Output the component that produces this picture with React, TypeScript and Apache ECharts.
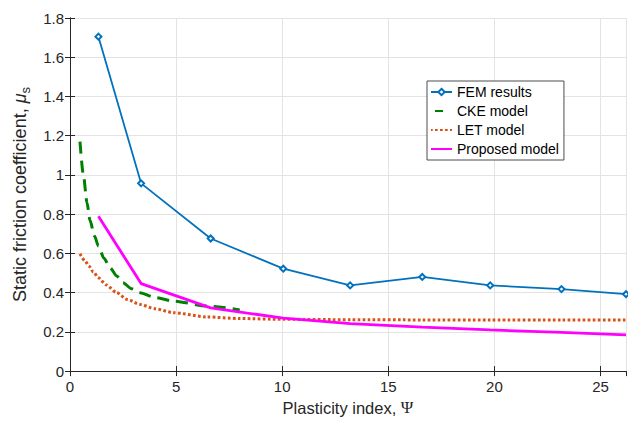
import React, { useEffect, useRef } from "react";
import * as echarts from "echarts";

// FEM results and proposed model (same plasticity indices)
const psi = [1.34, 3.35, 6.63, 10.05, 13.2, 16.6, 19.8, 23.16, 26.2];
const femMu = [1.705, 0.957, 0.676, 0.522, 0.437, 0.48, 0.437, 0.418, 0.392];
const proposedMu = [0.79, 0.446, 0.322, 0.27, 0.242, 0.224, 0.21, 0.197, 0.185];

// CKE model
const psiCke = [0.47, 0.63, 0.8, 0.94, 1.15, 1.34, 1.6, 1.89, 2.2, 2.5, 2.9, 3.3, 4.0, 4.87, 6.45, 8.0];
const ckeMu = [1.17, 1.0, 0.86, 0.77, 0.69, 0.637, 0.575, 0.527, 0.485, 0.45, 0.42, 0.4, 0.375, 0.357, 0.332, 0.312];

// LET model
const psiLet = [0.47, 0.7, 0.9, 1.1, 1.34, 1.7, 2.2, 2.7, 3.3, 4.0, 4.87, 6.45, 8.0, 10.05, 13.2, 16.6, 19.8, 23.16, 26.2];
const letMu = [0.598, 0.562, 0.535, 0.505, 0.476, 0.44, 0.4, 0.365, 0.34, 0.318, 0.298, 0.276, 0.268, 0.264, 0.262, 0.261, 0.261, 0.261, 0.261];

const xTicks = [0, 5, 10, 15, 20, 25];
const yTicks = [0, 0.2, 0.4, 0.6, 0.8, 1, 1.2, 1.4, 1.6, 1.8];
const legendNames = ["FEM results", "CKE model", "LET model", "Proposed model"];

const FONT = 'Arial, "Liberation Sans", Helvetica, sans-serif';
const AX = "#262626";

const zip = (xs: number[], ys: number[]) => xs.map((x, i) => [x, ys[i]]);

export default function App() {
  const ref = useRef<HTMLDivElement>(null);
  useEffect(() => {
    if (!ref.current) return;
    const chart = echarts.init(ref.current, undefined, { renderer: "svg" });
    const xMax = 26.2;
    const yMax = yTicks[yTicks.length - 1];
    const baseAxis = {
      axisLine: { show: true, lineStyle: { color: AX, width: 1 } },
      axisTick: { show: true, inside: true, length: 5, lineStyle: { color: AX } },
    };
    const hidden = { opacity: 0 };
    chart.setOption({
      animation: false,
      backgroundColor: "#ffffff",
      textStyle: { fontFamily: FONT },
      grid: { left: 70, right: 2, top: 18, bottom: 49, containLabel: false },
      legend: {
        orient: "vertical",
        left: 427,
        top: 81,
        padding: [4, 5, 4, 3],
        itemGap: 5,
        itemWidth: 21,
        itemHeight: 8,
        backgroundColor: "#ffffff",
        borderColor: "#4d4d4d",
        borderWidth: 1,
        textStyle: { fontFamily: FONT, fontSize: 14, color: "#000" },
        data: [
          { name: legendNames[0] },
          { name: legendNames[1], itemStyle: hidden, lineStyle: { type: [8, 40], dashOffset: -4 } },
          { name: legendNames[2], itemStyle: hidden, lineStyle: { type: [2.7, 2.3], dashOffset: -4 } },
          { name: legendNames[3], itemStyle: hidden },
        ],
      },
      xAxis: [
        {
          ...baseAxis,
          type: "value",
          min: 0,
          max: xMax,
          interval: 5,
          position: "bottom",
          name: "Plasticity index, {psi|Ψ}",
          nameLocation: "middle",
          nameGap: 26,
          nameTextStyle: {
            fontFamily: FONT,
            fontSize: 16.5,
            color: AX,
            rich: { psi: { fontFamily: '"Liberation Serif", "DejaVu Serif", serif', fontSize: 17, color: AX } },
          },
          axisLabel: {
            fontFamily: FONT,
            fontSize: 15,
            color: AX,
            margin: 8,
            showMaxLabel: false,
            formatter: (v: number) => (xTicks.includes(v) ? String(v) : ""),
          },
          splitLine: { show: true, lineStyle: { color: "#e3e3e3", width: 1 } },
        },
        {
          ...baseAxis,
          type: "value",
          min: 0,
          max: xMax,
          interval: 5,
          position: "top",
          axisLabel: { show: false },
          splitLine: { show: false },
        },
      ],
      yAxis: [
        {
          ...baseAxis,
          type: "value",
          min: 0,
          max: yMax,
          interval: 0.2,
          position: "left",
          name: "Static friction coefficient, {mu|μ}{sub|s}",
          nameLocation: "middle",
          nameGap: 35,
          nameTextStyle: {
            fontFamily: FONT,
            fontSize: 18,
            color: AX,
            rich: {
              mu: { fontFamily: FONT, fontStyle: "italic", fontSize: 18, color: AX },
              sub: { fontFamily: FONT, fontSize: 13, color: AX, verticalAlign: "bottom", padding: [11, 0, 0, 0] },
            },
          },
          axisLabel: {
            fontFamily: FONT,
            fontSize: 15,
            color: AX,
            margin: 6,
            formatter: (v: number) => String(Math.round(v * 10) / 10),
          },
          splitLine: { show: true, lineStyle: { color: "#e3e3e3", width: 1 } },
        },
        {
          ...baseAxis,
          type: "value",
          min: 0,
          max: yMax,
          interval: 0.2,
          position: "right",
          axisLabel: { show: false },
          splitLine: { show: false },
        },
      ],
      series: [
        {
          name: legendNames[0],
          type: "line",
          data: zip(psi, femMu),
          symbol: "emptyDiamond",
          symbolSize: 6,
          itemStyle: { color: "#0072BD", borderWidth: 1.5 },
          lineStyle: { color: "#0072BD", width: 1.8 },
          z: 5,
        },
        {
          name: legendNames[1],
          type: "line",
          data: zip(psiCke, ckeMu),
          symbol: "none",
          smooth: 0.25,
          smoothMonotone: "x",
          itemStyle: { color: "#008000" },
          lineStyle: { color: "#008000", width: 3, type: [12, 7] },
          z: 3,
        },
        {
          name: legendNames[2],
          type: "line",
          data: zip(psiLet, letMu),
          symbol: "none",
          smooth: 0.25,
          smoothMonotone: "x",
          itemStyle: { color: "#D95319" },
          lineStyle: { color: "#D95319", width: 3, type: [2.7, 2.3] },
          z: 2,
        },
        {
          name: legendNames[3],
          type: "line",
          data: zip(psi, proposedMu),
          symbol: "none",
          itemStyle: { color: "#FF00FF" },
          lineStyle: { color: "#FF00FF", width: 2.8 },
          z: 4,
        },
      ],
    });
    return () => chart.dispose();
  }, []);
  return (
    <div
      ref={ref}
      style={{ position: "fixed", left: 0, top: 0, width: 628, height: 421, background: "#fff" }}
    />
  );
}
